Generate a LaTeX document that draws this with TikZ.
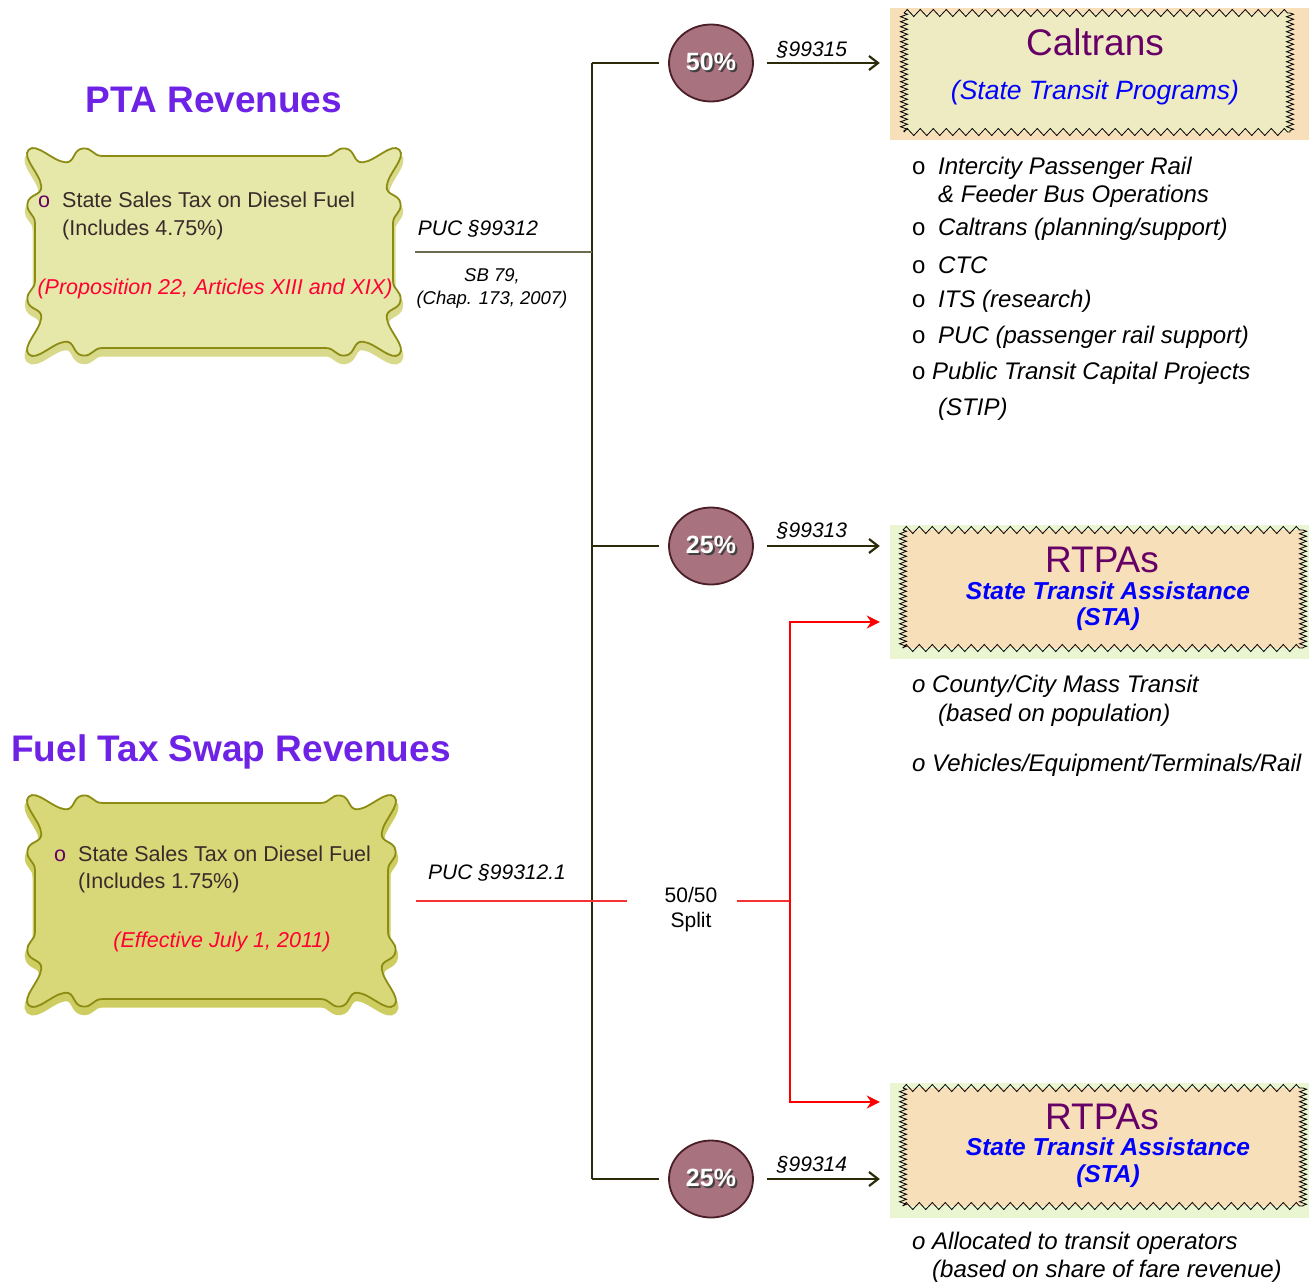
\documentclass[tikz,border=0pt]{standalone}
\usepackage{fontspec}
\setmainfont{Liberation Sans}
\usetikzlibrary{shapes.geometric,arrows.meta,decorations.pathmorphing}
\definecolor{ttlpurple}{HTML}{6E22E6}
\definecolor{boxApale}{HTML}{E6E8A9}
\definecolor{boxAshadow}{HTML}{D8D98A}
\definecolor{boxBfill}{HTML}{D8D879}
\definecolor{boxBshadow}{HTML}{CDCD62}
\definecolor{oliveborder}{HTML}{8C8C14}
\definecolor{circfill}{HTML}{A8727E}
\definecolor{circdraw}{HTML}{4A1E26}
\definecolor{wheatbg}{HTML}{F7E0B9}
\definecolor{paleyel}{HTML}{EEEBC2}
\definecolor{palegreen}{HTML}{EAF5D2}
\definecolor{calpurple}{HTML}{660066}
\definecolor{darkline}{HTML}{2B2B0C}
\definecolor{pucgray}{HTML}{6B6B50}
\definecolor{boxtext}{HTML}{3A2B2B}
\definecolor{redtext}{HTML}{FF0033}
\definecolor{splitred}{RGB}{245,50,50}
\newcommand\shadowed[4]{\makebox[0pt][l]{\hspace{#2}\raisebox{#3}{\textcolor{#1}{#4}}}#4}
\newcommand\scrollpathA[3]{%
({8*#3},{62*#3}) .. controls ({8*#3},{54*#3}) and ({1*#3},{54*#3}) .. ({2*#3},{46*#3})
 .. controls ({3*#3},{38*#3}) and ({14*#3},{40*#3}) .. ({13*#3},{32*#3})
 .. controls ({12*#3},{22*#3}) and ({-3*#3},{9*#3}) .. ({3*#3},{3*#3})
 .. controls ({9*#3},{-3*#3}) and ({22*#3},{12*#3}) .. ({32*#3},{13*#3})
 .. controls ({40*#3},{14*#3}) and ({38*#3},{3*#3}) .. ({46*#3},{2*#3})
 .. controls ({54*#3},{1*#3}) and ({54*#3},{8*#3}) .. ({62*#3},{8*#3})
 -- ({#1-62*#3},{8*#3})
 .. controls ({#1-54*#3},{8*#3}) and ({#1-54*#3},{1*#3}) .. ({#1-46*#3},{2*#3})
 .. controls ({#1-38*#3},{3*#3}) and ({#1-40*#3},{14*#3}) .. ({#1-32*#3},{13*#3})
 .. controls ({#1-22*#3},{12*#3}) and ({#1-9*#3},{-3*#3}) .. ({#1-3*#3},{3*#3})
 .. controls ({#1+3*#3},{9*#3}) and ({#1-12*#3},{22*#3}) .. ({#1-13*#3},{32*#3})
 .. controls ({#1-14*#3},{40*#3}) and ({#1-3*#3},{38*#3}) .. ({#1-2*#3},{46*#3})
 .. controls ({#1-1*#3},{54*#3}) and ({#1-8*#3},{54*#3}) .. ({#1-8*#3},{62*#3})
 -- ({#1-8*#3},{#2-62*#3})
 .. controls ({#1-8*#3},{#2-54*#3}) and ({#1-1*#3},{#2-54*#3}) .. ({#1-2*#3},{#2-46*#3})
 .. controls ({#1-3*#3},{#2-38*#3}) and ({#1-14*#3},{#2-40*#3}) .. ({#1-13*#3},{#2-32*#3})
 .. controls ({#1-12*#3},{#2-22*#3}) and ({#1+3*#3},{#2-9*#3}) .. ({#1-3*#3},{#2-3*#3})
 .. controls ({#1-9*#3},{#2+3*#3}) and ({#1-22*#3},{#2-12*#3}) .. ({#1-32*#3},{#2-13*#3})
 .. controls ({#1-40*#3},{#2-14*#3}) and ({#1-38*#3},{#2-3*#3}) .. ({#1-46*#3},{#2-2*#3})
 .. controls ({#1-54*#3},{#2-1*#3}) and ({#1-54*#3},{#2-8*#3}) .. ({#1-62*#3},{#2-8*#3})
 -- ({62*#3},{#2-8*#3})
 .. controls ({54*#3},{#2-8*#3}) and ({54*#3},{#2-1*#3}) .. ({46*#3},{#2-2*#3})
 .. controls ({38*#3},{#2-3*#3}) and ({40*#3},{#2-14*#3}) .. ({32*#3},{#2-13*#3})
 .. controls ({22*#3},{#2-12*#3}) and ({9*#3},{#2+3*#3}) .. ({3*#3},{#2-3*#3})
 .. controls ({-3*#3},{#2-9*#3}) and ({12*#3},{#2-22*#3}) .. ({13*#3},{#2-32*#3})
 .. controls ({14*#3},{#2-40*#3}) and ({3*#3},{#2-38*#3}) .. ({2*#3},{#2-46*#3})
 .. controls ({1*#3},{#2-54*#3}) and ({8*#3},{#2-54*#3}) .. ({8*#3},{#2-62*#3})
 -- cycle}
\begin{document}
\begin{tikzpicture}[x=1pt,y=-1pt,
  every node/.style={inner sep=0pt},
  ttl/.style={font=\fontsize{37}{40}\selectfont\bfseries, text=ttlpurple},
  boxtxt/.style={font=\fontsize{21.5}{25}\selectfont, text=boxtext, anchor=west},
  redtxt/.style={font=\fontsize{21.5}{25}\selectfont\itshape, text=redtext},
  lbl/.style={font=\fontsize{21}{25}\selectfont\itshape},
  smalllbl/.style={font=\fontsize{18.5}{23}\selectfont\itshape, align=center},
  lst/.style={font=\fontsize{24}{28}\selectfont\itshape, anchor=west},
  pct/.style={ellipse, draw=circdraw, line width=1.8pt, fill=circfill, minimum width=84pt, minimum height=77pt, font=\fontsize{25}{28}\selectfont\bfseries, text=white},
  dest/.style={rectangle, minimum width=419pt, inner sep=0pt},
  zzh/.style={decorate, decoration={zigzag, segment length=13pt, amplitude=3.5pt}, draw=black, line width=0.8pt},
  zzv/.style={decorate, decoration={zigzag, segment length=5pt, amplitude=3.5pt}, draw=black, line width=0.8pt},
  headtxt/.style={font=\fontsize{37}{40}\selectfont, text=calpurple},
  subtxt/.style={font=\fontsize{26.5}{28}\selectfont\itshape, text=blue},
  statxt/.style={font=\fontsize{24.5}{28}\selectfont\bfseries\itshape, text=blue},
  trunk/.style={draw=darkline, line width=1.3pt},
  darrow/.style={draw=darkline, line width=2.2pt, -{Straight Barb[length=9pt,width=14pt]}, shorten <=13pt, shorten >=10pt},
  redarrow/.style={draw=red, line width=2pt, -{Stealth[length=13pt,width=13pt]}, shorten >=10pt},
  splitline/.style={draw=splitred, line width=2pt}
]
\useasboundingbox (0,0) rectangle (1309,1283);

% ---------- titles ----------
\node[ttl] (ttlpta) at (214,100) {PTA Revenues};
\node[ttl] (ttlfuel) at (231,752) {Fuel Tax Swap Revenues};

% ---------- PTA source box ----------
\node[minimum width=378pt, minimum height=212pt] (pta) at (214,252) {};
\begin{scope}[shift={(25,146)}]
  \fill[boxAshadow] [shift={(0,7)}] \scrollpathA{378}{212}{1.25};
  \draw[boxAshadow, line width=5pt] [shift={(0,6)}] \scrollpathA{378}{212}{1.25};
  \filldraw[fill=boxApale, draw=oliveborder, line width=1.8pt] \scrollpathA{378}{212}{1.25};
\end{scope}
\node[boxtxt] (ptaA) at (38,200) {\makebox[24pt][l]{\textcolor{calpurple}{o}}State Sales Tax on Diesel Fuel};
\node[boxtxt] (ptaB) at (62,230) {(Includes 4.75\%)};
\node[redtxt] (ptaC) at (215,289) {(Proposition 22, Articles XIII and XIX)};

% ---------- Fuel source box ----------
\node[minimum width=373pt, minimum height=216pt] (fuel) at (211.5,901) {};
\begin{scope}[shift={(25,793)}]
  \fill[boxBshadow] [shift={(0,7)}] \scrollpathA{373}{216}{1.25};
  \draw[boxBshadow, line width=5pt] [shift={(0,6)}] \scrollpathA{373}{216}{1.25};
  \filldraw[fill=boxBfill, draw=oliveborder, line width=1.8pt] \scrollpathA{373}{216}{1.25};
\end{scope}
\node[boxtxt] (fuelA) at (54,854) {\makebox[24pt][l]{\textcolor{calpurple}{o}}State Sales Tax on Diesel Fuel};
\node[boxtxt] (fuelB) at (78,883) {(Includes 1.75\%)};
\node[redtxt] (fuelC) at (222,942) {(Effective July 1, 2011)};

% ---------- destination boxes ----------
\node[dest, minimum height=132pt, fill=wheatbg] (caltrans) at (1099.5,74) {};
\fill[paleyel] (904,13) rectangle (1290,132);
\draw[zzh] (904,13) -- (1290,13);
\draw[zzh] (904,132) -- (1290,132);
\draw[zzv] (904,13) -- (904,132);
\draw[zzv] (1290,13) -- (1290,132);
\node[headtxt] (calA) at (1095,42) {Caltrans};
\node[subtxt] (calB) at (1095,93) {(State Transit Programs)};

\node[dest, minimum height=134pt, fill=palegreen] (rtpa1) at (1099.5,592) {};
\fill[wheatbg] (903,530) rectangle (1303,648);
\draw[zzh] (903,530) -- (1303,530);
\draw[zzh] (903,648) -- (1303,648);
\draw[zzv] (903,530) -- (903,648);
\draw[zzv] (1303,530) -- (1303,648);
\node[headtxt] (r1A) at (1102,560) {RTPAs};
\node[statxt] (r1B) at (1108,591) {State Transit Assistance};
\node[statxt] (r1C) at (1108,619) {(STA)};

\node[dest, minimum height=135pt, fill=palegreen] (rtpa2) at (1099.5,1150.5) {};
\fill[wheatbg] (903,1088) rectangle (1303,1206);
\draw[zzh] (903,1088) -- (1303,1088);
\draw[zzh] (903,1206) -- (1303,1206);
\draw[zzv] (903,1088) -- (903,1206);
\draw[zzv] (1303,1088) -- (1303,1206);
\node[headtxt] (r2A) at (1102,1117) {RTPAs};
\node[statxt] (r2B) at (1108,1147) {State Transit Assistance};
\node[statxt] (r2C) at (1108,1176) {(STA)};

% ---------- lists ----------
\node[lst] (i1a) at (912,168) {\makebox[26pt][l]{\upshape o}Intercity Passenger Rail};
\node[lst] (i1b) at (938,196) {\& Feeder Bus Operations};
\node[lst] (i2) at (912,229) {\makebox[26pt][l]{\upshape o}Caltrans (planning/support)};
\node[lst] (i3) at (912,265) {\makebox[26pt][l]{\upshape o}CTC};
\node[lst] (i4) at (912,301) {\makebox[26pt][l]{\upshape o}ITS (research)};
\node[lst] (i5) at (912,337) {\makebox[26pt][l]{\upshape o}PUC (passenger rail support)};
\node[lst] (i6) at (912,373) {\makebox[20pt][l]{\upshape o}Public Transit Capital Projects};
\node[lst] (i7) at (938,409) {(STIP)};

\node[lst] (j1a) at (912,686) {o County/City Mass Transit};
\node[lst] (j1b) at (938,715) {(based on population)};
\node[lst] (j2) at (912,765) {o Vehicles/Equipment/Terminals/Rail};

\node[lst] (k1a) at (912,1243) {o Allocated to transit operators};
\node[lst] (k1b) at (932,1271) {(based on share of fare revenue)};

% ---------- percentage circles ----------
\node[pct] (c50) at (711,63) {\shadowed{black!75}{2pt}{-2.5pt}{50\%}};
\node[pct] (c25a) at (711,546) {\shadowed{black!75}{2pt}{-2.5pt}{25\%}};
\node[pct] (c25b) at (711,1179) {\shadowed{black!75}{2pt}{-2.5pt}{25\%}};

% ---------- trunk and connectors ----------
\coordinate (ttop) at (592,63);
\coordinate (tpuc) at (592,252);
\coordinate (tmid) at (592,546);
\coordinate (tbot) at (592,1179);
\draw[trunk] (ttop) -- (tbot);
\draw[trunk, shorten >=9pt] (ttop) -- (c50);
\draw[trunk, shorten >=9pt] (tmid) -- (c25a);
\draw[trunk, shorten >=9pt] (tbot) -- (c25b);
\draw[draw=pucgray, line width=1.8pt, shorten <=12pt] (pta) -- (tpuc);

\draw[darrow] (c50) -- (c50 -| caltrans.west);
\draw[darrow] (c25a) -- (c25a -| rtpa1.west);
\draw[darrow] (c25b) -- (c25b -| rtpa2.west);

\node[lbl] (s1) at (812,50) {§99315};
\node[lbl] (s2) at (812,531) {§99313};
\node[lbl] (s3) at (812,1165) {§99314};
\node[lbl] (puc1) at (478,229) {PUC §99312};
\node[smalllbl] (sb79) at (492,288) {SB 79,\\(Chap. 173, 2007)};
\node[lbl] (puc2) at (497,873) {PUC §99312.1};

% ---------- red split ----------
\coordinate (sw) at (627,901);
\coordinate (se) at (737,901);
\coordinate (rj) at (790,901);
\coordinate (r1) at (790,622);
\coordinate (r2) at (790,1102);
\node[font=\fontsize{21}{25}\selectfont, align=center] (split) at (691,910) {50/50\\Split};
\draw[splitline, shorten <=18pt] (fuel.east) -- (sw);
\draw[splitline] (se) -- (rj);
\draw[redarrow] (rj) -- (r1) -- (r1 -| rtpa1.west);
\draw[redarrow] (rj) -- (r2) -- (r2 -| rtpa2.west);
\end{tikzpicture}
\end{document}
